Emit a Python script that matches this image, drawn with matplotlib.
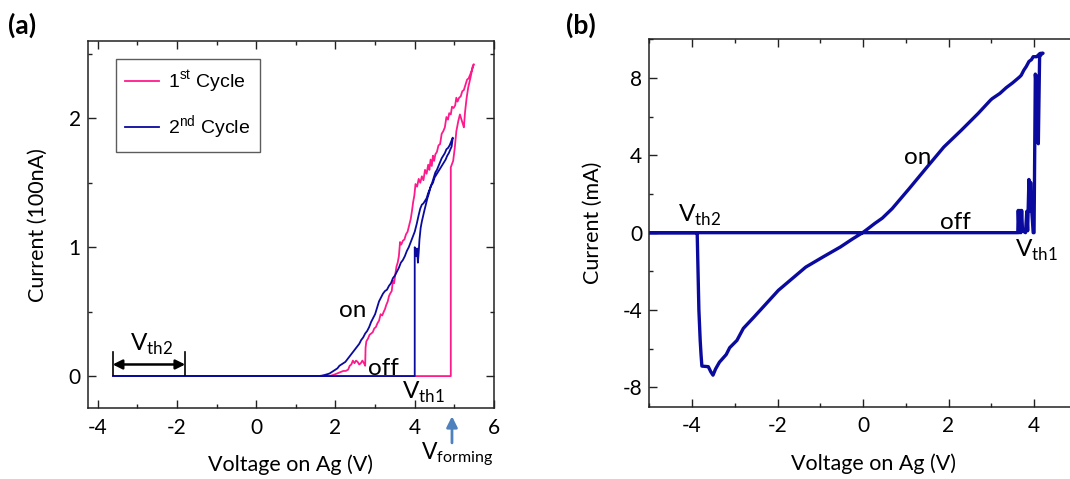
import matplotlib
matplotlib.use("Agg")
import matplotlib.pyplot as plt
from matplotlib.ticker import MultipleLocator

plt.rcParams['font.family'] = ['Lato', 'DejaVu Sans']
plt.rcParams['mathtext.fontset'] = 'custom'
plt.rcParams['mathtext.rm'] = 'Lato'
plt.rcParams['mathtext.sf'] = 'Liberation Sans'
plt.rcParams['axes.unicode_minus'] = False

# ---------------- Panel (a) data: current in units of 100 nA ----------------
cyc1_v = [-3.6, 4.91, 4.91, 4.97, 5.01, 5.05, 5.10, 5.14, 5.21, 5.24, 5.27, 5.31, 5.35, 5.41, 5.46, 5.49,
          5.45, 5.40, 5.36, 5.32, 5.28, 5.24, 5.20, 5.16, 5.12, 5.08, 5.05, 5.02, 4.98, 4.94, 4.91, 4.87,
          4.84, 4.80, 4.76, 4.72, 4.68, 4.64, 4.60, 4.56, 4.52, 4.49, 4.46, 4.43, 4.40, 4.37, 4.34, 4.30,
          4.26, 4.22, 4.18, 4.14, 4.10, 4.06, 4.02, 3.99, 3.96, 3.93, 3.90, 3.86, 3.82, 3.78, 3.74, 3.70,
          3.66, 3.63, 3.60, 3.57, 3.54, 3.51, 3.48, 3.45, 3.42, 3.38, 3.35, 3.32, 3.28, 3.25, 3.22, 3.18,
          3.14, 3.10, 3.06, 3.02, 2.98, 2.94, 2.90, 2.86, 2.82, 2.78, 2.76, 2.75, 2.72, 2.68, 2.64, 2.60,
          2.56, 2.52, 2.48, 2.44, 2.40, 2.36, 2.32, 2.26, 2.20, 2.12, 2.04, 1.96, 1.85, 1.78, -3.6]
cyc1_i = [0.0, 0.0, 1.62, 1.67, 1.77, 1.90, 1.98, 2.03, 1.96, 1.93, 2.05, 2.16, 2.24, 2.32, 2.40, 2.42,
          2.38, 2.34, 2.31, 2.30, 2.26, 2.22, 2.21, 2.17, 2.16, 2.13, 2.16, 2.10, 2.08, 2.09, 2.03, 2.04,
          1.99, 2.01, 1.93, 1.90, 1.88, 1.80, 1.79, 1.74, 1.72, 1.67, 1.71, 1.63, 1.68, 1.60, 1.64, 1.57,
          1.60, 1.52, 1.55, 1.50, 1.53, 1.47, 1.49, 1.40, 1.35, 1.28, 1.22, 1.17, 1.12, 1.10, 1.06, 1.05,
          1.02, 1.04, 0.93, 0.88, 0.85, 0.79, 0.72, 0.74, 0.66, 0.64, 0.62, 0.58, 0.55, 0.52, 0.50, 0.47,
          0.48, 0.43, 0.41, 0.38, 0.37, 0.34, 0.33, 0.32, 0.29, 0.27, 0.22, 0.08, 0.10, 0.12, 0.10, 0.09,
          0.11, 0.12, 0.10, 0.12, 0.09, 0.08, 0.05, 0.04, 0.04, 0.03, 0.02, 0.01, 0.0, 0.0, 0.0]

cyc2_v = [-3.6, 4.00, 4.00, 4.02, 4.04, 4.06, 4.08, 4.10, 4.12, 4.15, 4.18, 4.21, 4.24, 4.28, 4.32, 4.36,
          4.40, 4.44, 4.48, 4.52, 4.56, 4.60, 4.64, 4.68, 4.72, 4.76, 4.80, 4.84, 4.88, 4.92, 4.96,
          4.93, 4.90, 4.86, 4.82, 4.78, 4.74, 4.70, 4.66, 4.62, 4.58, 4.54, 4.50, 4.46, 4.42, 4.38, 4.34,
          4.30, 4.26, 4.22, 4.18, 4.14, 4.10, 4.05, 4.00, 3.95, 3.90, 3.85, 3.80, 3.75, 3.70, 3.65, 3.60,
          3.55, 3.50, 3.45, 3.40, 3.35, 3.30, 3.25, 3.20, 3.15, 3.10, 3.05, 3.00, 2.95, 2.90, 2.85, 2.80,
          2.75, 2.70, 2.65, 2.60, 2.55, 2.50, 2.45, 2.40, 2.35, 2.30, 2.25, 2.20, 2.15, 2.10, 2.05, 2.00,
          1.95, 1.90, 1.85, 1.80, 1.72, 1.65, 1.57, -3.6]
cyc2_i = [0.0, 0.0, 1.00, 0.97, 0.93, 0.99, 0.88, 0.96, 1.06, 1.15, 1.20, 1.24, 1.28, 1.33, 1.38, 1.42,
          1.47, 1.50, 1.54, 1.58, 1.60, 1.63, 1.66, 1.69, 1.71, 1.73, 1.76, 1.77, 1.79, 1.82, 1.85,
          1.78, 1.76, 1.73, 1.71, 1.68, 1.66, 1.64, 1.62, 1.60, 1.58, 1.56, 1.54, 1.50, 1.48, 1.45, 1.42,
          1.38, 1.36, 1.34, 1.33, 1.30, 1.25, 1.18, 1.12, 1.08, 1.04, 1.00, 0.97, 0.93, 0.90, 0.88, 0.84,
          0.81, 0.78, 0.76, 0.72, 0.70, 0.67, 0.66, 0.64, 0.61, 0.58, 0.53, 0.48, 0.45, 0.42, 0.38, 0.35,
          0.33, 0.30, 0.28, 0.25, 0.23, 0.21, 0.19, 0.17, 0.15, 0.13, 0.11, 0.10, 0.09, 0.08, 0.06, 0.05,
          0.04, 0.03, 0.02, 0.015, 0.008, 0.003, 0.0, 0.0]

# ---------------- Panel (b) data: current in mA ----------------
b_v = [-5.0, 3.62, 3.63, 3.65, 3.67, 3.69, 3.71, 3.73, 3.80, 3.83, 3.85, 3.88, 3.90, 3.92, 3.95, 3.98,
       4.00, 4.03, 4.05, 4.07, 4.10, 4.13, 4.18, 4.21,
       4.14, 4.06, 3.98, 3.94, 3.88, 3.82, 3.76, 3.70, 3.66, 3.58, 3.50, 3.35, 3.20, 3.02, 2.98, 2.69,
       2.30, 1.89, 1.50, 1.08, 0.68, 0.45, 0.27, 0.10, -0.01, -0.25, -0.53, -0.94, -1.34, -1.98,
       -2.55, -2.80, -2.95, -3.12, -3.20, -3.36, -3.45, -3.51, -3.56, -3.62, -3.77, -3.79, -3.81, -3.84,
       -3.88, -5.0]
b_i = [0.0, 0.0, 1.15, 0.0, 1.15, 0.0, 1.15, 0.1, 0.0, 1.1, 0.1, 2.75, 1.1, 2.6, 1.0, 0.0,
       0.0, 8.2, 7.6, 8.1, 4.6, 9.1, 9.25, 9.28,
       9.27, 9.10, 9.10, 8.95, 8.85, 8.60, 8.40, 8.14, 8.05, 7.90, 7.75, 7.50, 7.20, 6.93, 6.85, 6.16,
       5.30, 4.43, 3.40, 2.28, 1.24, 0.75, 0.47, 0.18, 0.0, -0.33, -0.74, -1.26, -1.78, -2.98,
       -4.36, -4.95, -5.57, -5.95, -6.30, -6.70, -7.05, -7.37, -7.20, -6.93, -6.90, -6.30, -5.55, -4.00,
       0.0, 0.0]

PINK = '#ff1a8c'
BLUE = '#0a0a9e'
W, H = 1070, 479
fig = plt.figure(figsize=(W / 100, H / 100), dpi=100)

TICK_FS = 15
LABEL_FS = 15.5
ANN_FS = 17.5

def style_axes(ax):
    for s in ax.spines.values():
        s.set_linewidth(1.1)
        s.set_color('#222222')
    ax.tick_params(which='both', direction='in', top=True, right=True,
                   labelsize=TICK_FS, width=1.0, color='#222222')
    ax.tick_params(which='major', length=5.5)
    ax.tick_params(which='minor', length=3)
    ax.tick_params(axis='x', which='major', pad=7)
    ax.tick_params(axis='y', which='major', pad=5)

# ---------- (a) ----------
ax1 = fig.add_axes([87.7 / W, 1 - 408.3 / H, (494 - 87.7) / W, (408.3 - 41) / H])
ax1.plot(cyc1_v, cyc1_i, color=PINK, lw=1.3, label=r'1$^{\mathsf{st}}$ Cycle')
ax1.plot(cyc2_v, cyc2_i, color=BLUE, lw=1.3, label=r'2$^{\mathsf{nd}}$ Cycle')
ax1.set_xlim(-4.25, 6.0)
ax1.set_ylim(-0.25, 2.6)
ax1.xaxis.set_major_locator(MultipleLocator(2))
ax1.xaxis.set_minor_locator(MultipleLocator(1))
ax1.yaxis.set_major_locator(MultipleLocator(1))
ax1.yaxis.set_minor_locator(MultipleLocator(0.5))
style_axes(ax1)
ax1.set_xlabel('Voltage on Ag (V)', fontsize=LABEL_FS, labelpad=12)
ax1.set_ylabel('Current (100nA)', fontsize=LABEL_FS, labelpad=15)

leg = ax1.legend(loc='upper left', bbox_to_anchor=(0.069, 0.951), borderaxespad=0,
                 prop={'family': 'Liberation Sans', 'size': 14}, frameon=True, fancybox=False,
                 edgecolor='#333333', handlelength=1.75, handletextpad=0.45, labelspacing=0.95,
                 borderpad=0.5)
leg.get_frame().set_linewidth(1.0)

ax1.text(2.09, 0.457, 'on', fontsize=ANN_FS, ha='left', va='baseline')
ax1.text(2.82, 0.01, 'off', fontsize=ANN_FS, ha='left', va='baseline')
ax1.text(3.67, -0.18, r'V$_{\mathrm{th1}}$', fontsize=ANN_FS, ha='left', va='baseline')
ax1.text(-3.18, 0.2, r'V$_{\mathrm{th2}}$', fontsize=ANN_FS, ha='left', va='baseline')
ax1.text(4.17, -0.653, r'V$_{\mathrm{forming}}$', fontsize=16.5, ha='left', va='baseline', clip_on=False)
ax1.annotate('', xy=(4.94, -0.29), xytext=(4.94, -0.54), annotation_clip=False,
             arrowprops=dict(arrowstyle='-|>', color='#4f81bd', lw=2.0, mutation_scale=16))
# V_th2 double arrow with end bars
ax1.plot([-3.62, -3.62], [0.01, 0.19], color='black', lw=1.2)
ax1.plot([-1.79, -1.79], [0.01, 0.19], color='black', lw=1.2)
ax1.annotate('', xy=(-3.62, 0.09), xytext=(-1.79, 0.09),
             arrowprops=dict(arrowstyle='<|-|>', color='black', lw=1.8, mutation_scale=14,
                             shrinkA=0, shrinkB=0))

fig.text(8 / W, 1 - 25 / H, '(a)', fontsize=19, fontweight='bold', ha='left', va='center')

# ---------- (b) ----------
bx0 = 649.3
bx_per_v = 42.75
ax2 = fig.add_axes([bx0 / W, 1 - 406.7 / H, 10.5 * bx_per_v / W, (406.7 - 39.3) / H])
ax2.plot(b_v, b_i, color=BLUE, lw=2.4, solid_joinstyle='round')
ax2.set_xlim(-5.0, 5.5)
ax2.set_ylim(-9, 10)
ax2.xaxis.set_major_locator(MultipleLocator(2))
ax2.xaxis.set_minor_locator(MultipleLocator(1))
ax2.yaxis.set_major_locator(MultipleLocator(4))
ax2.yaxis.set_minor_locator(MultipleLocator(2))
style_axes(ax2)
ax2.set_xlabel('Voltage on Ag (V)', fontsize=LABEL_FS, labelpad=12)
ax2.set_ylabel('Current (mA)', fontsize=LABEL_FS, labelpad=14)

ax2.text(-4.33, 0.55, r'V$_{\mathrm{th2}}$', fontsize=ANN_FS, ha='left', va='baseline')
ax2.text(0.96, 3.57, 'on', fontsize=ANN_FS, ha='left', va='baseline')
ax2.text(1.81, 0.2, 'off', fontsize=ANN_FS, ha='left', va='baseline')
ax2.text(3.56, -1.26, r'V$_{\mathrm{th1}}$', fontsize=ANN_FS, ha='left', va='baseline')

fig.text(566 / W, 1 - 25 / H, '(b)', fontsize=19, fontweight='bold', ha='left', va='center')

fig.savefig('out.png', dpi=100)
